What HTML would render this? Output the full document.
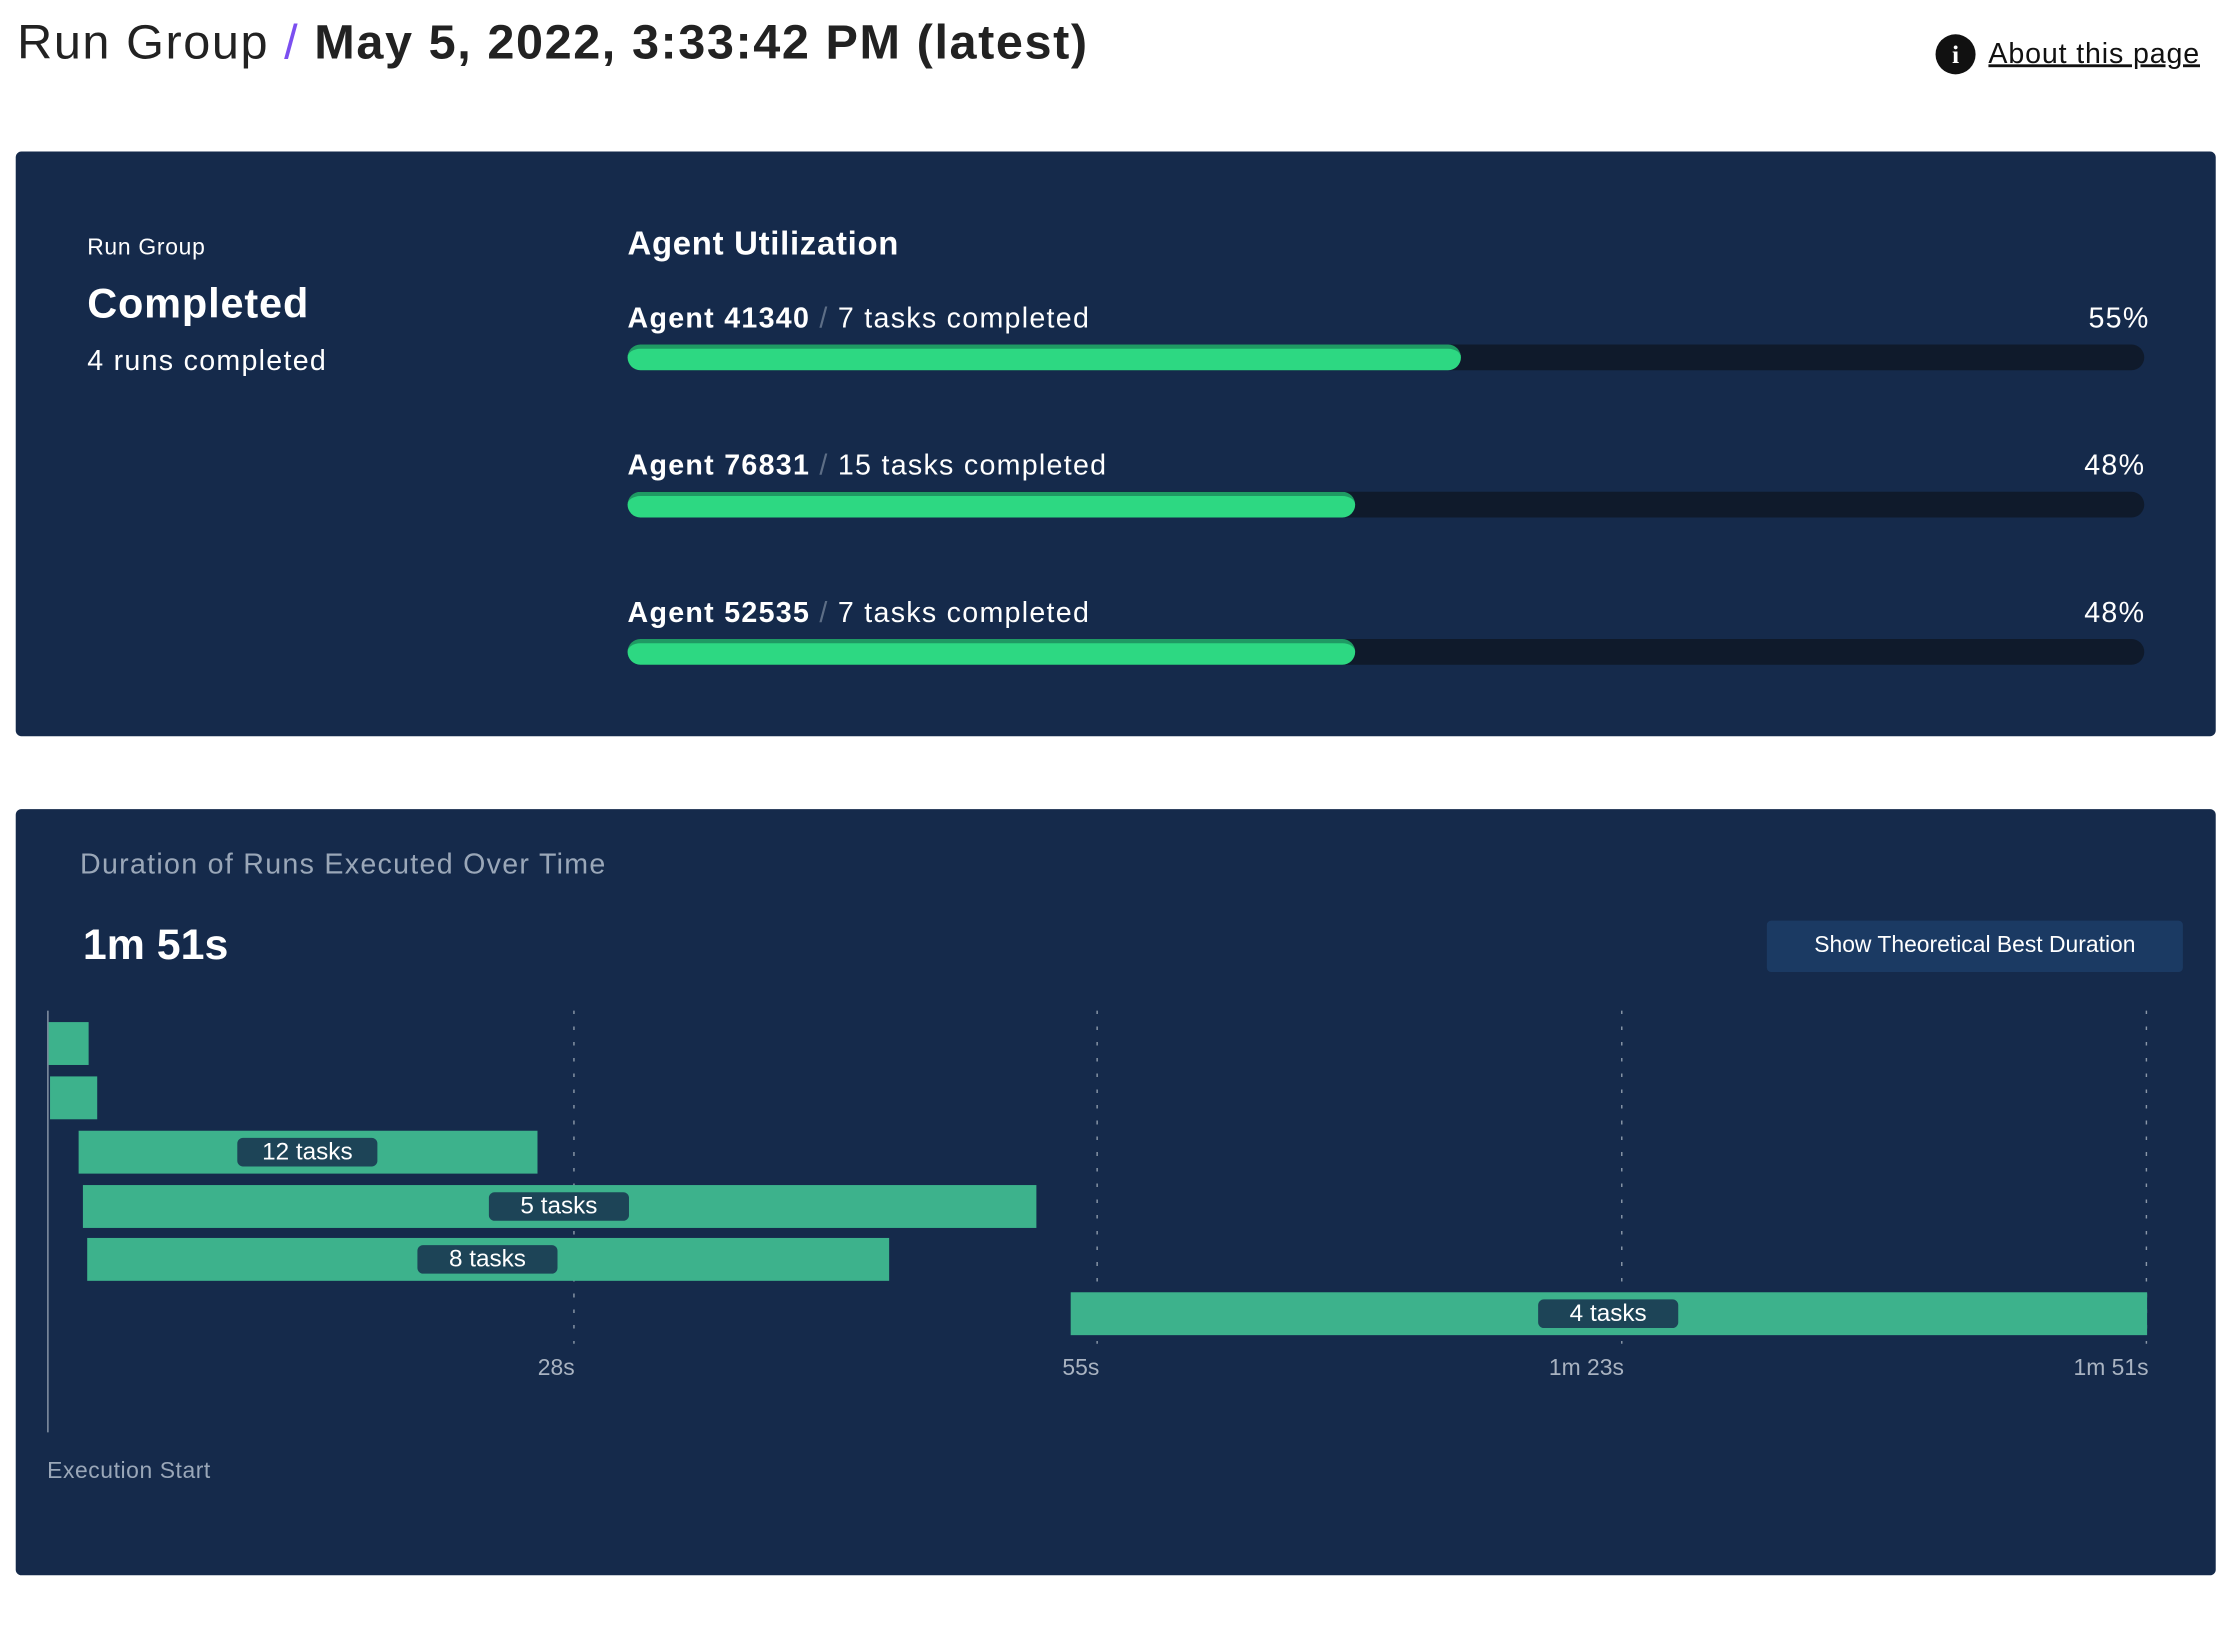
<!DOCTYPE html>
<html><head><style>
*{margin:0;padding:0;box-sizing:border-box}
html,body{width:2240px;height:1626px;overflow:hidden;background:#fff}
#w{position:absolute;left:0;top:0;width:1567px;height:1140px;transform:scale(1.4295);transform-origin:0 0;font-family:"Liberation Sans",sans-serif}
.a{position:absolute;white-space:nowrap}
.panel{position:absolute;background:#152a4b;border-radius:4px}
.track{position:absolute;left:439px;width:1061px;height:18px;background:#0f1a2b;border-radius:9px}
.fill{position:absolute;left:0;top:0;height:18px;background:#2dd882;border-radius:9px;border-top:3px solid #1f9a63}
.lbl{font-size:20px;color:#fff;letter-spacing:0.9px}
.bar{position:absolute;height:30px;background:#3db28c}
.pill{position:absolute;top:5px;width:98px;height:20px;background:#1d4457;border-radius:4px;color:#fff;font-size:17px;text-align:center;line-height:20px}
.grid{position:absolute;top:707px;height:233px;width:1.2px;background:repeating-linear-gradient(to bottom,#8a97a8 0 2.5px,transparent 2.5px 11px)}
.tick{position:absolute;top:949px;font-size:16px;color:#a9b3c1;text-align:right;width:100px}
</style></head><body><div id="w">
<div class="a" style="left:12px;top:11px;font-size:34px;color:#222;letter-spacing:1.1px">Run Group <span style="color:#7b4ff0">/</span> <b>May 5, 2022, 3:33:42 PM (latest)</b></div>
<div class="a" style="left:1354px;top:24px;width:28px;height:28px;border-radius:50%;background:#111;color:#fff;font-weight:bold;font-size:18px;text-align:center;line-height:28px;font-family:'Liberation Serif',serif">i</div>
<div class="a" style="left:1391px;top:27px;font-size:20px;color:#111;text-decoration:underline;letter-spacing:0.6px">About this page</div>

<div class="panel" style="left:11px;top:106px;width:1539px;height:409px"></div>
<div class="a" style="left:61px;top:165px;font-size:16px;color:#fff;letter-spacing:0.5px">Run Group</div>
<div class="a" style="left:61px;top:197px;font-size:29px;color:#fff;font-weight:bold;letter-spacing:0.6px">Completed</div>
<div class="a" style="left:61px;top:242px;font-size:20px;color:#fff;letter-spacing:0.9px">4 runs completed</div>
<div class="a" style="left:439px;top:157px;font-size:23px;color:#fff;font-weight:bold;letter-spacing:0.5px">Agent Utilization</div>

<div class="a lbl" style="left:439px;top:212px"><b>Agent 41340</b> <span style="color:#5d6e86">/</span> 7 tasks completed</div>
<div class="a lbl" style="left:1461px;top:212px">55%</div>
<div class="track" style="top:241px"><div class="fill" style="width:583px"></div></div>
<div class="a lbl" style="left:439px;top:315px"><b>Agent 76831</b> <span style="color:#5d6e86">/</span> 15 tasks completed</div>
<div class="a lbl" style="left:1458px;top:315px">48%</div>
<div class="track" style="top:344px"><div class="fill" style="width:509px"></div></div>
<div class="a lbl" style="left:439px;top:418px"><b>Agent 52535</b> <span style="color:#5d6e86">/</span> 7 tasks completed</div>
<div class="a lbl" style="left:1458px;top:418px">48%</div>
<div class="track" style="top:447px"><div class="fill" style="width:509px"></div></div>

<div class="panel" style="left:11px;top:566px;width:1539px;height:536px"></div>
<div class="a" style="left:56px;top:594px;font-size:20px;color:#9aa7b8;letter-spacing:0.9px">Duration of Runs Executed Over Time</div>
<div class="a" style="left:58px;top:645px;font-size:30px;color:#fff;font-weight:bold">1m 51s</div>
<div class="a" style="left:1236px;top:644px;width:291px;height:36px;background:#1b3a63;border-radius:3px;color:#fff;font-size:16px;text-align:center;line-height:36px">Show Theoretical Best Duration</div>

<div class="a" style="left:33px;top:707px;width:1px;height:295px;background:#8a97a8"></div>
<div class="grid" style="left:401px"></div>
<div class="grid" style="left:767px"></div>
<div class="grid" style="left:1134px"></div>
<div class="grid" style="left:1501px"></div>
<div class="bar" style="left:34px;top:715px;width:28px"></div>
<div class="bar" style="left:35px;top:753px;width:33px"></div>
<div class="bar" style="left:55px;top:791px;width:321px"><div class="pill" style="left:111px">12 tasks</div></div>
<div class="bar" style="left:58px;top:829px;width:667px"><div class="pill" style="left:284px">5 tasks</div></div>
<div class="bar" style="left:61px;top:866px;width:561px"><div class="pill" style="left:231px">8 tasks</div></div>
<div class="bar" style="left:749px;top:904px;width:753px"><div class="pill" style="left:327px">4 tasks</div></div>
<div class="tick" style="left:302px">28s</div>
<div class="tick" style="left:669px">55s</div>
<div class="tick" style="left:1036px">1m 23s</div>
<div class="tick" style="left:1403px">1m 51s</div>
<div class="a" style="left:33px;top:1021px;font-size:16px;color:#9aa7b8;letter-spacing:0.4px">Execution Start</div>
</div></body></html>
